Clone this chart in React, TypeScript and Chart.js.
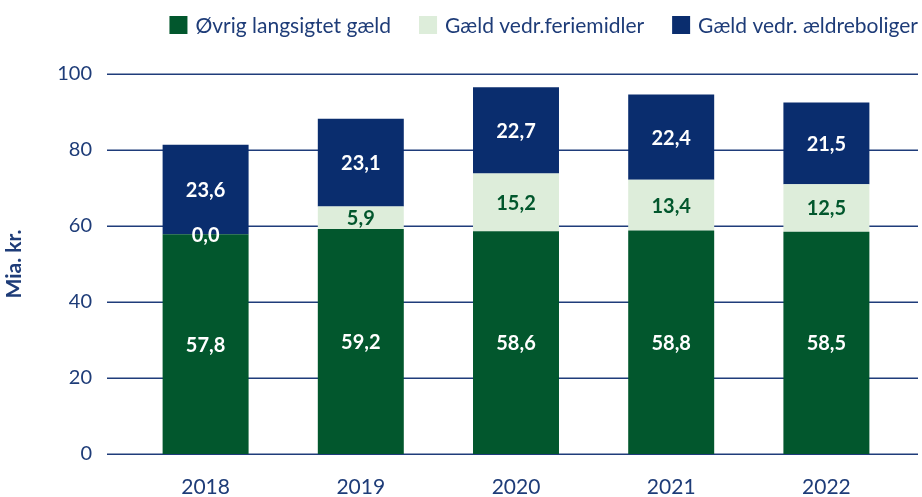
import React, { useEffect, useRef } from "react";
import { Chart, registerables } from "chart.js";

Chart.register(...registerables);

const years = ["2018", "2019", "2020", "2021", "2022"];
const oevrigGaeld = [57.8, 59.2, 58.6, 58.8, 58.5];
const ferieMidler = [0.0, 5.9, 15.2, 13.4, 12.5];
const aeldreBoliger = [23.6, 23.1, 22.7, 22.4, 21.5];
const yTickValues = [0, 20, 40, 60, 80, 100];
const seriesNames = ["Øvrig langsigtet gæld", "Gæld vedr.feriemidler", "Gæld vedr. ældreboliger"];

const NAVY = "#0A2D6E";
const GREEN = "#02572D";
const LIGHT = "#DDEDDA";
const TEXT = "#1E3C78";
const FONT = "Lato, 'Open Sans', sans-serif";

const gridPlugin = {
  id: "customGrid",
  beforeDatasetsDraw(chart: any) {
    const { ctx, chartArea, scales } = chart;
    ctx.save();
    ctx.strokeStyle = "#1F3C7A";
    ctx.lineWidth = 1.5;
    for (const v of yTickValues) {
      const y = Math.round(scales.y.getPixelForValue(v)) + 0.25;
      ctx.beginPath();
      ctx.moveTo(chartArea.left - 21, y);
      ctx.lineTo(chartArea.right + 14, y);
      ctx.stroke();
    }
    ctx.restore();
  },
};

const labelPlugin = {
  id: "valueLabels",
  afterDatasetsDraw(chart: any) {
    const { ctx } = chart;
    ctx.save();
    ctx.font = `bold 20px ${FONT}`;
    ctx.textAlign = "center";
    ctx.textBaseline = "middle";
    chart.data.datasets.forEach((ds: any, di: number) => {
      const meta = chart.getDatasetMeta(di);
      meta.data.forEach((el: any, i: number) => {
        const v = ds.data[i] as number;
        let color = "#FFFFFF";
        if (di === 1 && v !== 0) color = GREEN;
        ctx.fillStyle = color;
        const y = (el.y + el.base) / 2;
        ctx.fillText(v.toFixed(1).replace(".", ","), el.x, y + 1);
      });
    });
    ctx.restore();
  },
};

const legendPlugin = {
  id: "customLegend",
  afterDraw(chart: any) {
    const { ctx } = chart;
    const box = 18;
    const gapText = 8;
    const gapItem = 28;
    const right = 918;
    const cy = 25;
    ctx.save();
    ctx.font = `21px ${FONT}`;
    ctx.textBaseline = "middle";
    ctx.textAlign = "left";
    const items = chart.data.datasets.map((ds: any) => ({
      label: ds.label as string,
      color: ds.backgroundColor as string,
      w: ctx.measureText(ds.label).width,
    }));
    let total = 0;
    items.forEach((it: any, i: number) => {
      total += box + gapText + it.w + (i < items.length - 1 ? gapItem : 0);
    });
    let x = right - total;
    items.forEach((it: any) => {
      ctx.fillStyle = it.color;
      ctx.fillRect(x, cy - box / 2, box, box);
      ctx.fillStyle = TEXT;
      ctx.fillText(it.label, x + box + gapText, cy + 1);
      x += box + gapText + it.w + gapItem;
    });
    ctx.restore();
  },
};

export default function App() {
  const ref = useRef<HTMLCanvasElement | null>(null);
  useEffect(() => {
    if (!ref.current) return;
    const chart = new Chart(ref.current, {
      type: "bar",
      data: {
        labels: years,
        datasets: [
          { label: seriesNames[0], data: oevrigGaeld, backgroundColor: GREEN },
          { label: seriesNames[1], data: ferieMidler, backgroundColor: LIGHT },
          { label: seriesNames[2], data: aeldreBoliger, backgroundColor: NAVY },
        ],
      },
      options: {
        animation: false,
        responsive: true,
        maintainAspectRatio: false,
        layout: { padding: { top: 74, right: 18, bottom: 0, left: 0 } },
        datasets: { bar: { barPercentage: 1, categoryPercentage: 0.554 } },
        plugins: {
          tooltip: { enabled: false },
          legend: { display: false },
        },
        scales: {
          x: {
            stacked: true,
            afterFit(s: any) {
              s.height = 43;
            },
            grid: { display: false, drawTicks: false },
            border: { display: false },
            ticks: { color: TEXT, font: { family: FONT, size: 21 }, padding: 21 },
          },
          y: {
            stacked: true,
            min: 0,
            max: 100,
            afterFit(s: any) {
              s.width = 128;
            },
            afterBuildTicks(s: any) {
              s.ticks = yTickValues.map((v) => ({ value: v }));
            },
            grid: { display: false, drawTicks: true, tickLength: 30 },
            border: { display: false },
            ticks: { color: TEXT, font: { family: FONT, size: 20 }, padding: 6 },
            title: {
              display: true,
              text: "Mia. kr.",
              color: TEXT,
              font: { family: FONT, size: 21, weight: "bold" },
              padding: { top: 2, bottom: 4 },
            },
          },
        },
      },
      plugins: [gridPlugin, labelPlugin, legendPlugin],
    });
    return () => chart.destroy();
  }, []);
  return (
    <div style={{ position: "fixed", left: 0, top: 0, width: 922, height: 497, background: "#fff" }}>
      <canvas ref={ref} style={{ width: "100%", height: "100%" }} />
    </div>
  );
}
